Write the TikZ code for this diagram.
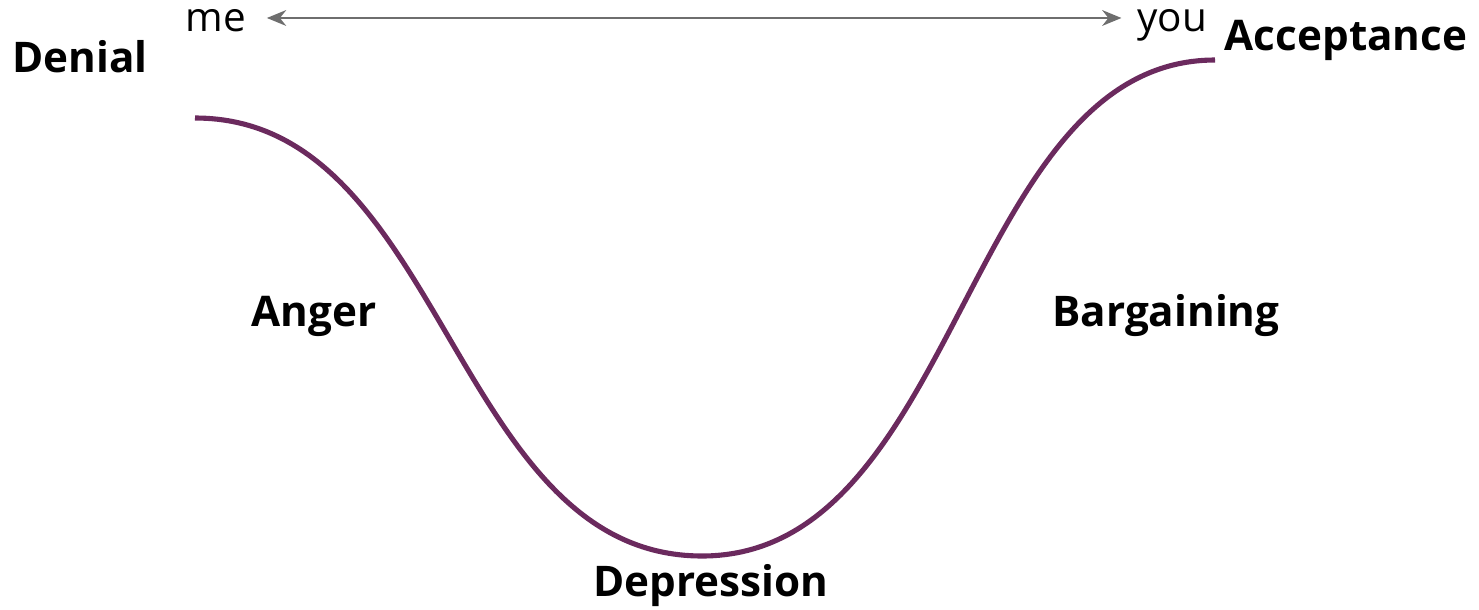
\documentclass[tikz,border=0pt]{standalone}
\usepackage{fontspec}
\setmainfont{Open Sans}
\usetikzlibrary{arrows.meta}
\definecolor{grief}{HTML}{6B2A5E}
\definecolor{axisgray}{HTML}{6E6E6E}
\tikzset{
    stage/.style={font=\fontsize{12}{14}\selectfont\bfseries, inner sep=0pt, anchor=base},
    side/.style={font=\fontsize{11.5}{14}\selectfont, inner sep=0pt, anchor=base}
}

\begin{document}
\begin{tikzpicture}[x=0.01cm,y=-0.01cm]
        \useasboundingbox (0,0) rectangle (1479,609);
        % points on the curve
        \coordinate (start) at (195,118);
        \coordinate (bottom) at (702,556);
        \coordinate (top) at (1215,60);
        \draw[grief, line width=1.45pt]
            (start) .. controls (445,118) and (452,556) .. (bottom)
            .. controls (960,556) and (965,60) .. (top);
        % me / you axis
        \node[side] (me) at (216,31.5) {me};
        \node[side] (you) at (1172,31.5) {you};
        \draw[axisgray, line width=0.5pt, {Stealth[length=5.5pt,width=4.5pt]}-{Stealth[length=5.5pt,width=4.5pt]},
            shorten <=0.2cm, shorten >=0.15cm]
            ([yshift=0.135cm]me.base east) -- ([yshift=0.135cm]you.base west);
        % stage labels
        \node[stage] (denial) at (80,72) {Denial};
        \node[stage] (accept) at (1346,50) {Acceptance};
        \node[stage] (anger) at (314,326) {Anger};
        \node[stage] (bargain) at (1166,326) {Bargaining};
        \node[stage] (depress) at (711,596) {Depression};
    \end{tikzpicture}
\end{document}
